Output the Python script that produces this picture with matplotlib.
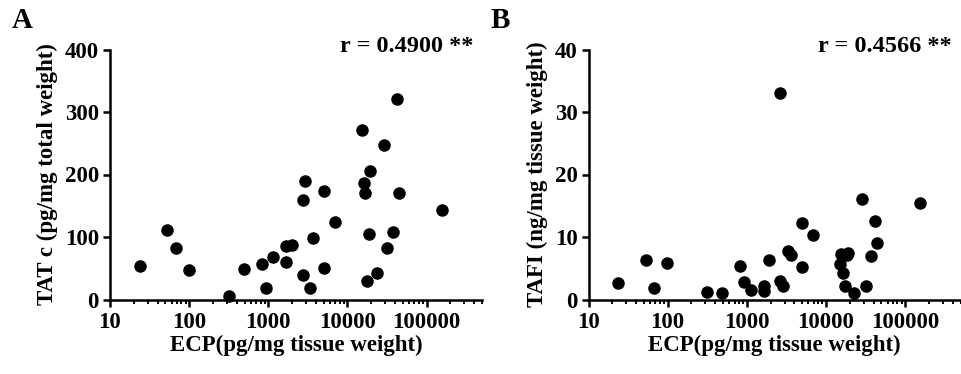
import matplotlib.pyplot as plt
import numpy as np
from matplotlib.ticker import LogLocator, FixedLocator, NullFormatter

plt.rcParams['font.family'] = ['Liberation Serif', 'DejaVu Serif']
plt.rcParams['font.weight'] = 'bold'

# panel A: ECP vs TAT c
ecp_a = [24, 53, 68, 100, 318, 497, 840, 943, 1135, 1656, 1672, 1990, 2716, 2905,
         2716, 3400, 3668, 5000, 5000, 7020, 15240, 16320, 16640, 19050, 18700,
         17630, 23600, 28900, 31850, 37570, 41800, 44300, 156300]
tat_a = [54, 112, 83, 48, 5, 49, 57, 19, 68, 60, 86, 87, 159, 189,
         39, 18, 98, 174, 51, 124, 272, 187, 171, 206, 105,
         30, 42, 247, 82, 108, 321, 171, 144]

# panel B: ECP vs TAFI
ecp_b = [23.5, 52.5, 66.8, 97.5, 312, 483, 824, 925, 1124, 1625, 1625, 1915, 2636,
         2636, 2904, 3357, 3630, 4955, 4955, 6820, 14830, 15400, 16320, 17470,
         18330, 19230, 22700, 28400, 31570, 36800, 41000, 43900, 154500]
tafi_b = [2.7, 6.4, 1.9, 5.9, 1.2, 1.1, 5.3, 2.8, 1.5, 2.1, 1.4, 6.3, 33.0,
          2.9, 2.2, 7.8, 7.2, 12.2, 5.2, 10.4, 5.7, 7.3, 4.3, 2.1,
          7.1, 7.5, 1.0, 16.1, 2.1, 7.0, 12.6, 9.1, 15.5]

x_ticks = [10, 100, 1000, 10000, 100000]
x_labels = ['10', '100', '1000', '10000', '100000']

W, H = 961, 374
fig = plt.figure(figsize=(W / 100, H / 100), dpi=100)


def make_panel(left_px, x, y, ylim, yticks, ylabel, xlabel, rtext, letter):
    ax = fig.add_axes([left_px / W, 1 - 299.5 / H, 372 / W, 250 / H])
    ax.scatter(x, y, s=64, color='black', zorder=3, clip_on=False)
    ax.set_xscale('log')
    ax.set_xlim(10, 5e5)
    ax.set_ylim(*ylim)
    ax.xaxis.set_major_locator(FixedLocator(x_ticks))
    ax.set_xticklabels(x_labels)
    ax.xaxis.set_minor_locator(LogLocator(base=10, subs=np.arange(2, 10)))
    ax.xaxis.set_minor_formatter(NullFormatter())
    ax.set_yticks(yticks)
    for s in ['top', 'right']:
        ax.spines[s].set_visible(False)
    for s in ['left', 'bottom']:
        ax.spines[s].set_linewidth(1.8)
    ax.tick_params(which='major', length=5, width=1.8, labelsize=16.5, pad=3)
    ax.tick_params(axis='x', which='major', pad=4)
    ax.tick_params(which='minor', length=3, width=1.4)
    for lab in ax.get_xticklabels() + ax.get_yticklabels():
        lab.set_fontweight('bold')
    ax.set_ylabel(ylabel, fontsize=16.5, fontweight='bold', labelpad=5)
    ax.set_xlabel(xlabel, fontsize=16.5, fontweight='bold', labelpad=1)
    ax.text(0.977, 1.01, rtext, transform=ax.transAxes, ha='right', va='center',
            fontsize=17.5, fontweight='bold')
    fig.text((left_px - 98) / W, 1 - 20 / H, letter, fontsize=21,
             fontweight='bold', ha='left', va='center')
    return ax


make_panel(110, ecp_a, tat_a, (0, 400), [0, 100, 200, 300, 400],
           'TAT c (pg/mg total weight)', 'ECP(pg/mg tissue weight)',
           'r = 0.4900 **', 'A')
make_panel(588.5, ecp_b, tafi_b, (0, 40), [0, 10, 20, 30, 40],
           'TAFI (ng/mg tissue weight)', 'ECP(pg/mg tissue weight)',
           'r = 0.4566 **', 'B')

fig.savefig('out.png', dpi=100)
